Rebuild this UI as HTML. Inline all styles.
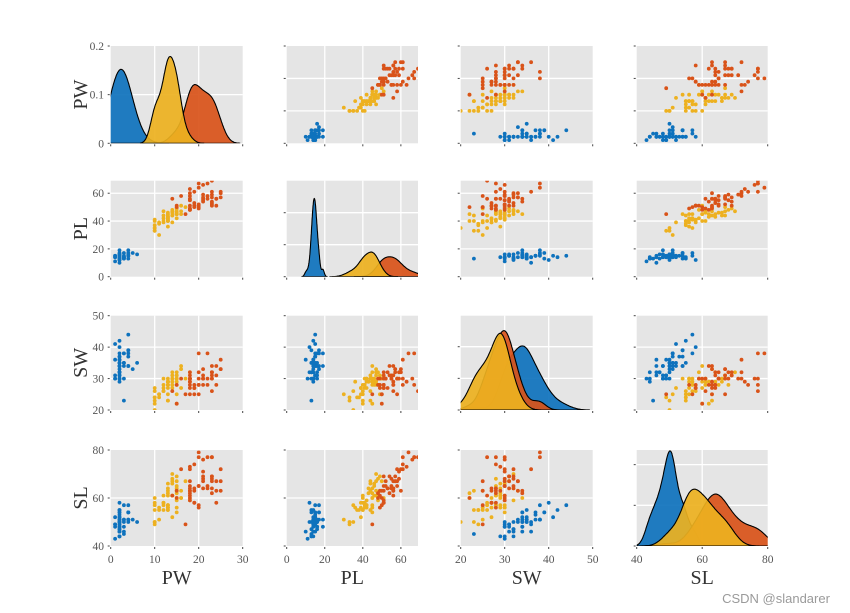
<!DOCTYPE html>
<html><head><meta charset="utf-8"><style>
html,body{margin:0;padding:0;background:#fff;}
svg{display:block;}
</style></head><body>
<svg id="chart" width="850" height="613" viewBox="0 0 850 613" xmlns="http://www.w3.org/2000/svg">
<text x="776" y="603" font-family="'Liberation Sans','Noto Sans CJK SC',sans-serif" font-size="13" fill="#9a9a9a" text-anchor="middle">CSDN @slandarer</text>
</svg>
<script>
// Variables (in 0.1 cm units): PW, PL, SW, SL
const varNames = ["PW","PL","SW","SL"];
const groupNames = ["setosa","versicolor","virginica"];
const slSetosa=[51,49,47,46,50,54,46,50,44,49,54,48,48,43,58,57,54,51,57,51,54,51,46,51,48,50,50,52,52,47,48,54,52,55,49,50,55,49,44,51,50,45,44,50,51,48,51,46,53,50];
const swSetosa=[35,30,32,31,36,39,34,34,29,31,37,34,30,30,40,44,39,35,38,38,34,37,36,33,34,30,34,35,34,32,31,34,41,42,31,32,35,36,30,34,35,23,32,35,38,30,38,32,37,33];
const plSetosa=[14,14,13,15,14,17,14,15,14,15,15,16,14,11,12,15,13,14,17,15,17,15,10,17,19,16,16,15,14,16,16,15,15,14,15,12,13,14,13,15,13,13,13,16,19,14,16,14,15,14];
const pwSetosa=[2,2,2,2,2,4,3,2,2,1,2,2,1,1,2,4,4,3,3,3,2,4,2,5,2,2,4,2,2,2,2,4,1,2,2,2,2,1,2,2,3,3,2,6,4,3,2,2,2,2];
const slVersicolor=[70,64,69,55,65,57,63,49,66,52,50,59,60,61,56,67,56,58,62,56,59,61,63,61,64,66,68,67,60,57,55,55,58,60,54,60,67,63,56,55,55,61,58,50,56,57,57,62,51,57];
const swVersicolor=[32,32,31,23,28,28,33,24,29,27,20,30,22,29,29,31,30,27,22,25,32,28,25,28,29,30,28,30,29,26,24,24,27,27,30,34,31,23,30,25,26,30,26,23,27,30,29,29,25,28];
const plVersicolor=[47,45,49,40,46,45,47,33,46,39,35,42,40,47,36,44,45,41,45,39,48,40,49,47,43,44,48,50,45,35,38,37,39,51,45,45,47,44,41,40,44,46,40,33,42,42,42,43,30,41];
const pwVersicolor=[14,15,15,13,15,13,16,10,13,14,10,15,10,14,13,14,15,10,15,11,18,13,15,12,13,14,14,17,15,10,11,10,12,16,15,16,15,13,13,13,12,14,12,10,13,12,13,13,11,13];
const slVirginica=[63,58,71,63,65,76,49,73,67,72,65,64,68,57,58,64,65,77,77,60,69,56,77,63,67,72,62,61,64,72,74,79,64,63,61,77,63,64,60,69,67,69,58,68,67,67,63,65,62,59];
const swVirginica=[33,27,30,29,30,30,25,29,25,36,32,27,30,25,28,32,30,38,26,22,32,28,28,27,33,32,28,30,28,30,28,38,28,28,26,30,34,31,30,31,31,31,27,32,33,30,25,30,34,30];
const plVirginica=[60,51,59,56,58,66,45,63,58,61,51,53,55,50,51,53,55,67,69,50,57,49,67,49,57,60,48,49,56,58,61,64,56,51,56,61,56,55,48,54,56,51,51,59,57,52,50,52,54,51];
const pwVirginica=[25,19,21,18,22,21,17,18,18,25,20,19,21,20,24,23,18,22,23,15,23,20,20,18,21,18,18,18,21,16,19,20,22,15,14,23,24,18,18,21,24,23,19,23,25,23,19,20,23,18];
const xTicks=[[0,10,20,30],[0,20,40,60],[20,30,40,50],[40,60,80]];
const yTicksRow1=["0","0.1","0.2"];
const diagYMax=[0.2,0.30,0.149,0.118];
const diagYTicks=[[0,0.1,0.2],[0,0.1,0.2],[0,0.05,0.1],[0,0.05,0.1]];

const data=[
 [pwSetosa,plSetosa,swSetosa,slSetosa],
 [pwVersicolor,plVersicolor,swVersicolor,slVersicolor],
 [pwVirginica,plVirginica,swVirginica,slVirginica]];
const colors=["#0E72BD","#EDB120","#D95319"];
const cols=[[110.7,242.7,0,30],[286.7,418,0,69],[460.7,592.7,20,50],[636.7,767.7,40,80]];
const rows=[[46,143.3],[180.7,276.7],[315.7,410],[450,546]];
const NS="http://www.w3.org/2000/svg";
const svg=document.getElementById('chart');
function mk(tag,attrs,parent){const e=document.createElementNS(NS,tag);for(const k in attrs)e.setAttribute(k,attrs[k]);(parent||svg).appendChild(e);return e;}
function sx(c,v){const C=cols[c];return C[0]+(v-C[2])/(C[3]-C[2])*(C[1]-C[0]);}
function sy(r,v){const R=rows[r],C=cols[r];return R[1]-(v-C[2])/(C[3]-C[2])*(R[1]-R[0]);}
function dy(r,v){const R=rows[r];return R[1]-v/diagYMax[r]*(R[1]-R[0]);}
function median(a){const s=[...a].sort((x,y)=>x-y),n=s.length;return n%2?s[(n-1)/2]:(s[n/2-1]+s[n/2])/2;}
function kde(x){const m=median(x);let sig=median(x.map(v=>Math.abs(v-m)))/0.6745;if(sig<=0)sig=Math.max(...x)-Math.min(...x);
 const u=sig*Math.pow(4/(3*x.length),0.2);const lo=Math.min(...x)-3*u,hi=Math.max(...x)+3*u;const pts=[];
 for(let i=0;i<=200;i++){const t=lo+(hi-lo)*i/200;let s=0;for(const v of x)s+=Math.exp(-0.5*((t-v)/u)**2);pts.push([t,s/(x.length*u*Math.sqrt(2*Math.PI))]);}return pts;}
const serif="'Liberation Serif','DejaVu Serif',serif";
const defs=mk('defs',{});
for(let r=0;r<4;r++)for(let c=0;c<4;c++){
 const L=cols[c][0],R=cols[c][1],T=rows[r][0],B=rows[r][1];
 const g=mk('g',{});
 
 
 const cp=mk('clipPath',{id:'cp'+r+c},defs);mk('rect',{x:L,y:T,width:R-L,height:B-T},cp);
 mk('rect',{x:L,y:T,width:R-L,height:B-T,fill:'#e5e5e5'},g);
 for(const t of xTicks[c]){const X=sx(c,t);if(X>L+1&&X<R-1)mk('line',{x1:X,x2:X,y1:T,y2:B,stroke:'#fff','stroke-width':1.3},g);
  mk('line',{x1:X,x2:X,y1:B+1,y2:B+3,stroke:'#444','stroke-width':1},g);}
 const yt=(r===c)?diagYTicks[r].map(v=>dy(r,v)):xTicks[r].map(v=>sy(r,v));
 for(const Y of yt){if(Y>T+1&&Y<B-1)mk('line',{x1:L,x2:R,y1:Y,y2:Y,stroke:'#fff','stroke-width':1.3},g);
  if(Y>=T-1)mk('line',{x1:L-3,x2:L-1,y1:Y,y2:Y,stroke:'#444','stroke-width':1},g);}
 const inner=mk('g',{'clip-path':'url(#cp'+r+c+')'},g);
 if(r===c){
  for(const gi of [0,2,1]){const pts=kde(data[gi][c]);
   let d='M'+sx(c,pts[0][0]).toFixed(1)+','+B;for(const p of pts)d+='L'+sx(c,p[0]).toFixed(1)+','+dy(r,p[1]).toFixed(1);
   d+='L'+sx(c,pts[pts.length-1][0]).toFixed(1)+','+B+'Z';
   const p=mk('path',{d:d,fill:colors[gi],'fill-opacity':0.92,stroke:'#000','stroke-width':1.1},inner);
   
   }
 }else{
  for(const gi of [0,1,2]){const xs=data[gi][c],ys=data[gi][r];
   for(let i=0;i<xs.length;i++){const d=mk('circle',{cx:sx(c,xs[i]).toFixed(1),cy:sy(r,ys[i]).toFixed(1),r:1.9,fill:colors[gi]},inner);
    
    }}
 }
}
for(let r=0;r<4;r++){const labs=(r===0)?yTicksRow1:xTicks[r].map(String);const vals=(r===0)?diagYTicks[0]:xTicks[r];
 labs.forEach((s,i)=>{const Y=(r===0)?dy(0,vals[i]):sy(r,vals[i]);const t=mk('text',{x:104,y:Y+4,'font-family':serif,'font-size':11.5,fill:'#555','text-anchor':'end'});t.textContent=s;
 
 });
 const yl=mk('text',{x:0,y:0,transform:'translate(87,'+((rows[r][0]+rows[r][1])/2)+') rotate(-90)','font-family':serif,'font-size':20,fill:'#333','text-anchor':'middle'});yl.textContent=varNames[r];
 
 }
for(let c=0;c<4;c++){xTicks[c].forEach(v=>{const t=mk('text',{x:sx(c,v),y:563,'font-family':serif,'font-size':11.5,fill:'#555','text-anchor':'middle'});t.textContent=String(v);
 
 });
 const xl=mk('text',{x:(cols[c][0]+cols[c][1])/2,y:584,'font-family':serif,'font-size':20,fill:'#333','text-anchor':'middle'});xl.textContent=varNames[c];
 
 }
</script>
</body></html>
